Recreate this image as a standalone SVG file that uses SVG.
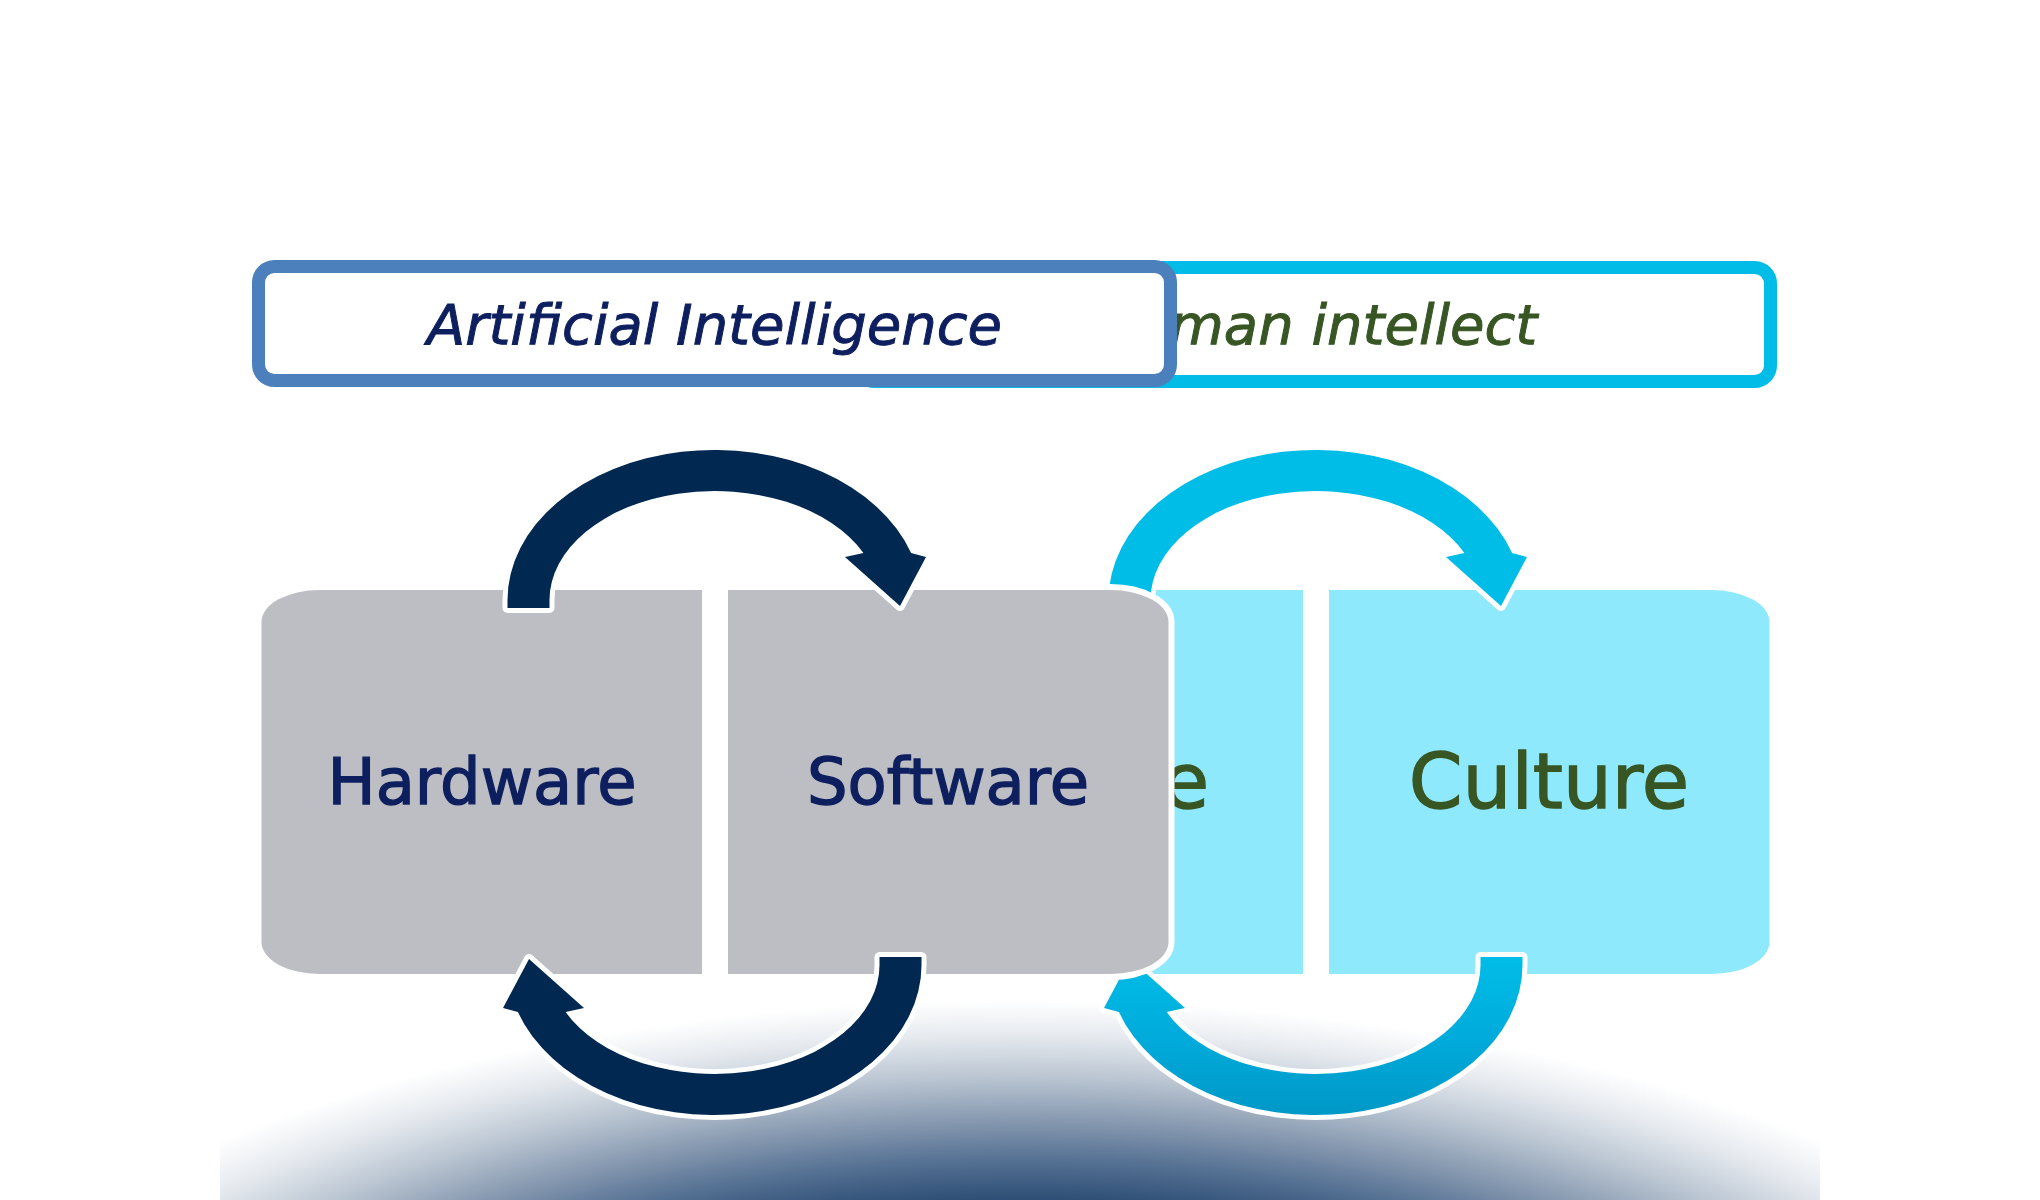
<svg xmlns="http://www.w3.org/2000/svg" width="2040" height="1200" viewBox="0 0 2040 1200">
  <style>
    .title { font-family: "DejaVu Sans", "Liberation Sans", sans-serif; font-style: italic; font-size: 56px; text-anchor: middle; stroke-width: 1; }
    .label { font-family: "DejaVu Sans", "Liberation Sans", sans-serif; text-anchor: middle; stroke-width: 1.4; }
    .ai-text { fill: #0d1f5e; stroke: #0d1f5e; }
    .hi-text { fill: #375623; stroke: #375623; }
    .panel { stroke: #ffffff; stroke-width: 12; paint-order: stroke; stroke-linejoin: round; }
    .gray { fill: #bdbec3; }
    .cyan { fill: #8fe9fd; }
    .arrow { stroke: #ffffff; stroke-width: 10; paint-order: stroke; stroke-linejoin: round; }
  </style>
  <defs>
    <radialGradient id="glow" gradientUnits="userSpaceOnUse" cx="1020" cy="1500" r="500" gradientTransform="translate(1020 1500) scale(2.3 1) translate(-1020 -1500)">
      <stop offset="0.6" stop-color="#2e4e75"/>
      <stop offset="0.68" stop-color="#557193"/>
      <stop offset="0.76" stop-color="#8799b0"/>
      <stop offset="0.85" stop-color="#bcc7d3"/>
      <stop offset="0.93" stop-color="#e6eaef"/>
      <stop offset="1" stop-color="#ffffff"/>
    </radialGradient>
    <linearGradient id="cyanDown" x1="0" y1="0" x2="0" y2="1">
      <stop offset="0" stop-color="#0098c7"/>
      <stop offset="0.5" stop-color="#00abdb"/>
      <stop offset="1" stop-color="#00bde8"/>
    </linearGradient>
    <path id="arc" d="M 549.5 608 L 549.5 600 A 165 109 0 0 1 863.4 553 L 845 557 L 900 606 L 926 557 L 911.1 553 A 207 150 0 0 0 507.5 600 L 507.5 608 Z"/>
    <mask id="behindAI" maskUnits="userSpaceOnUse" x="0" y="0" width="2040" height="1200">
      <rect x="0" y="0" width="2040" height="1200" fill="#ffffff"/>
      <path d="M 728 590 L 1110.5 590 A 58 32 0 0 1 1168.5 622 L 1168.5 942 A 58 32 0 0 1 1110.5 974 L 728 974 Z" fill="#000000" stroke="#000000" stroke-width="12" stroke-linejoin="round"/>
    </mask>
  </defs>

  <rect x="0" y="0" width="2040" height="1200" fill="#ffffff"/>
  <rect x="220" y="980" width="1600" height="220" fill="url(#glow)"/>

  <!-- Human intellect side (behind) -->
  <g id="human-intellect">
    <rect x="858.5" y="267.5" width="912" height="114" rx="16" ry="16" fill="#ffffff" stroke="#00bce6" stroke-width="13"/>
    <text class="title hi-text" x="1314.5" y="344">Human intellect</text>
  </g>
  <g id="left-human-panel">
    <path class="panel cyan" d="M 1303 590 L 920.5 590 A 58 32 0 0 0 862.5 622 L 862.5 942 A 58 32 0 0 0 920.5 974 L 1303 974 Z"/>
    <text class="label hi-text" x="1209" y="808" font-size="77" style="text-anchor:end">e</text>
  </g>
  <g id="culture">
    <path class="panel cyan" d="M 1329 590 L 1711.5 590 A 58 32 0 0 1 1769.5 622 L 1769.5 942 A 58 32 0 0 1 1711.5 974 L 1329 974 Z"/>
    <text class="label hi-text" x="1549" y="808" font-size="77">Culture</text>
  </g>

  <!-- Artificial Intelligence side (front) -->
  <g id="artificial-intelligence">
    <rect x="258.5" y="266.5" width="912" height="114" rx="16" ry="16" fill="#ffffff" stroke="#4b80bc" stroke-width="13"/>
    <text class="title ai-text" x="714.5" y="344">Artificial Intelligence</text>
  </g>
  <g id="hardware">
    <path class="panel gray" d="M 702 590 L 319.5 590 A 58 32 0 0 0 261.5 622 L 261.5 942 A 58 32 0 0 0 319.5 974 L 702 974 Z"/>
    <text class="label ai-text" x="482" y="804" font-size="64">Hardware</text>
  </g>
  <g id="software">
    <path class="panel gray" d="M 728 590 L 1110.5 590 A 58 32 0 0 1 1168.5 622 L 1168.5 942 A 58 32 0 0 1 1110.5 974 L 728 974 Z"/>
    <text class="label ai-text" x="948" y="804" font-size="64">Software</text>
  </g>

  <g id="connectors">
    <g mask="url(#behindAI)">
      <use href="#arc" class="arrow" fill="#00bde8" transform="translate(601 0)"/>
      <use href="#arc" class="arrow" fill="url(#cyanDown)" transform="translate(601 0) rotate(180 714.5 782.5)"/>
    </g>
    <use href="#arc" class="arrow" fill="#002850"/>
    <use href="#arc" class="arrow" fill="#002850" transform="rotate(180 714.5 782.5)"/>
  </g>
</svg>
